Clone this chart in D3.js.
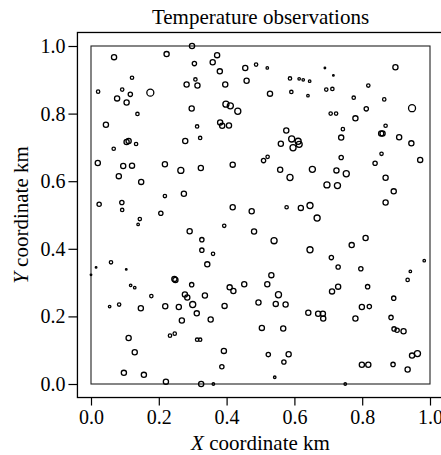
<!DOCTYPE html>
<html>
<head>
<meta charset="utf-8">
<script src="https://cdn.jsdelivr.net/npm/d3@7"></script>
<style>
  body { margin: 0; background: #fff; }
  text { font-family: "Liberation Serif", "DejaVu Serif", serif; fill: #000; }
</style>
</head>
<body>
<div id="container"></div>
<script>
let w = 441;
let h = 455;

// DATA: station coordinates (km) and a relative temperature class (symbol size)
let xs = [
  0.068,0.223,0.298,0.305,0.121,0.308,0.282,0.314,0.021,0.092,0.175,0.116,0.077,0.105,0.137,0.297,0.044,0.313,0.322,0.278,0.105,0.111,0.133,0.067,
  0.372,0.359,0.380,0.455,0.487,0.520,0.459,0.396,0.587,0.614,0.626,0.645,0.528,0.591,0.640,0.398,0.411,0.433,0.381,0.387,0.407,0.576,0.560,0.592,0.611,0.614,0.596,
  0.690,0.715,0.898,0.694,0.712,0.818,0.775,0.865,0.947,0.812,0.707,0.723,0.780,0.743,0.738,0.869,0.856,0.860,0.909,0.945,0.857,
  0.020,0.095,0.121,0.218,0.265,0.324,0.082,0.148,0.024,0.091,0.092,0.218,0.274,0.144,0.139,0.206,0.291,0.327,0.327,0.015,0.059,0.104,0.000,
  0.418,0.509,0.521,0.558,0.587,0.653,0.418,0.474,0.577,0.619,0.646,0.667,0.393,0.481,0.540,0.646,0.360,0.343,
  0.738,0.838,0.971,0.724,0.753,0.696,0.727,0.869,0.893,0.869,0.810,0.769,0.709,0.729,0.796,0.942,0.983,
  0.246,0.249,0.117,0.129,0.297,0.178,0.277,0.284,0.300,0.312,0.055,0.083,0.147,0.219,0.259,0.268,0.233,0.247,0.313,0.322,0.111,0.129,0.097,0.156,0.221,
  0.532,0.452,0.409,0.420,0.520,0.336,0.553,0.394,0.494,0.545,0.574,0.353,0.641,0.670,0.684,0.685,0.504,0.567,0.392,0.523,0.583,0.569,0.386,0.542,0.325,0.361,
  0.934,0.711,0.729,0.816,0.893,0.799,0.821,0.780,0.885,0.894,0.903,0.922,0.947,0.963,0.799,0.818,0.891,0.934,0.750
];
let ys = [
  0.967,0.976,1.000,0.948,0.906,0.901,0.886,0.883,0.865,0.871,0.862,0.857,0.845,0.833,0.799,0.815,0.767,0.762,0.728,0.719,0.716,0.719,0.710,0.696,
  0.973,0.952,0.925,0.935,0.945,0.935,0.897,0.886,0.904,0.903,0.900,0.896,0.859,0.864,0.853,0.828,0.823,0.807,0.774,0.764,0.765,0.750,0.711,0.725,0.718,0.709,0.699,
  0.935,0.913,0.937,0.871,0.873,0.883,0.847,0.842,0.816,0.814,0.800,0.800,0.786,0.754,0.729,0.764,0.741,0.741,0.730,0.712,0.681,
  0.654,0.645,0.646,0.650,0.632,0.639,0.615,0.598,0.532,0.537,0.515,0.556,0.563,0.488,0.472,0.505,0.452,0.427,0.396,0.345,0.360,0.339,0.323,
  0.649,0.661,0.672,0.634,0.611,0.635,0.523,0.511,0.523,0.521,0.528,0.491,0.468,0.451,0.424,0.397,0.385,0.354,
  0.670,0.653,0.663,0.632,0.622,0.589,0.587,0.610,0.570,0.537,0.432,0.411,0.374,0.346,0.341,0.333,0.365,
  0.311,0.308,0.292,0.285,0.294,0.260,0.265,0.256,0.235,0.209,0.229,0.235,0.224,0.230,0.228,0.188,0.143,0.149,0.131,0.131,0.136,0.094,0.033,0.027,0.007,
  0.322,0.295,0.286,0.275,0.295,0.262,0.264,0.231,0.241,0.237,0.235,0.191,0.211,0.208,0.208,0.194,0.166,0.164,0.098,0.087,0.088,0.065,0.051,0.020,0.000,0.000,
  0.308,0.274,0.288,0.288,0.254,0.228,0.229,0.194,0.197,0.163,0.159,0.156,0.084,0.090,0.057,0.057,0.058,0.043,0.000
];
let temps = [
  3,3,3,2.5,2,2,3,3,2,2,4,2.5,3,3,2,3,3,2,2,3,3,3,2,2,
  3,3,3,3,2,1.5,3,3,2,1.5,1.5,1.5,3,2,1.5,3.5,3.5,3.5,3,3,3,3,3,3.5,3.5,3.5,3.5,
  1,1,3,2,2,2,2,2,4,2.5,2,2,3,2,3,2,3,3,3,3,2,
  3,3,3,3,3.5,3,3,3,2.5,2.5,2,2,3,2,1.5,2.5,3,2.5,2.5,1,2,1,1,
  3,2.5,2,3,3.5,3.5,3,3,2,3,3.5,3.5,2,3,3.5,3.5,2,3,
  2.5,2.5,3,3,3.5,3.5,3.5,3,3,3,3,3,2.5,2.5,2.5,1.5,1.5,
  3,3,1.5,1.5,2.5,2,3,3,3.5,3,1.5,2,3,3,3,3,2,2,2,2,3,3,3,3,3,
  3,3,3,3,3,3,3.5,3,3,3,3,3,3,3,3,3,3,3,3,2.5,3,2.5,2.5,1.5,3,1.5,
  2,3,3,2.5,2.5,3,2.5,3,2.5,2.5,2.5,3,3,3.5,3,3,2.5,3,1.5
];
let tickValues = [0, 0.2, 0.4, 0.6, 0.8, 1.0];
let title = "Temperature observations";

let viz = d3.select("#container").append("svg")
  .attr("width", w)
  .attr("height", h)
  .style("display", "block");

// SCALES
let xScale = d3.scaleLinear().domain([0, 1]).range([91, 430]);
let yScale = d3.scaleLinear().domain([0, 1]).range([384, 46]);
let rScale = d3.scaleLinear().domain([1, 4]).range([0.8, 3.5]);

// outer plot box (R style, 4% padding)
let x0 = xScale(-0.04), x1 = xScale(1.04);
let y0 = yScale(-0.04), y1 = yScale(1.04);
viz.append("rect")
  .attr("x", x0).attr("y", y1)
  .attr("width", x1 - x0).attr("height", y0 - y1)
  .attr("fill", "none").attr("stroke", "#000").attr("stroke-width", 1.3);

// inner study-area square
viz.append("rect")
  .attr("x", xScale(0)).attr("y", yScale(1))
  .attr("width", xScale(1) - xScale(0)).attr("height", yScale(0) - yScale(1))
  .attr("fill", "none").attr("stroke", "#222").attr("stroke-width", 1.1);

// AXES
let fmt = d3.format(".1f");
let xAxis = d3.axisBottom(xScale).tickValues(tickValues).tickFormat(fmt).tickSize(8).tickPadding(4);
let yAxis = d3.axisLeft(yScale).tickValues(tickValues).tickFormat(fmt).tickSize(9).tickPadding(3);

let gx = viz.append("g").attr("transform", "translate(0," + y0 + ")").call(xAxis);
let gy = viz.append("g").attr("transform", "translate(" + x0 + ",0)").call(yAxis);
[gx, gy].forEach(function(g){
  g.select(".domain").remove();
  g.selectAll("line").attr("stroke", "#000").attr("stroke-width", 1.2);
  g.selectAll("text").style("font-family", "Liberation Serif").style("font-size", "20px").attr("fill", "#000");
});

// POINTS
viz.selectAll(".obs").data(xs).enter()
  .append("circle")
  .attr("class", "obs")
  .attr("cx", function(d){ return xScale(d); })
  .attr("cy", function(d, i){ return yScale(ys[i]); })
  .attr("r", function(d, i){ return rScale(temps[i]); })
  .attr("fill", "none")
  .attr("stroke", "#000")
  .attr("stroke-width", 1.3);

// LABELS
viz.append("text")
  .attr("x", (xScale(0) + xScale(1)) / 2).attr("y", 24)
  .attr("text-anchor", "middle")
  .style("font-size", "21px")
  .text(title);

let xl = viz.append("text")
  .attr("x", (xScale(0) + xScale(1)) / 2).attr("y", 450)
  .attr("text-anchor", "middle")
  .style("font-size", "21px");
xl.append("tspan").style("font-style", "italic").text("X");
xl.append("tspan").text(" coordinate km");

let yl = viz.append("text")
  .attr("transform", "translate(28," + (yScale(0.5)) + ") rotate(-90)")
  .attr("text-anchor", "middle")
  .style("font-size", "21px");
yl.append("tspan").style("font-style", "italic").text("Y");
yl.append("tspan").text(" coordinate km");
</script>
</body>
</html>
